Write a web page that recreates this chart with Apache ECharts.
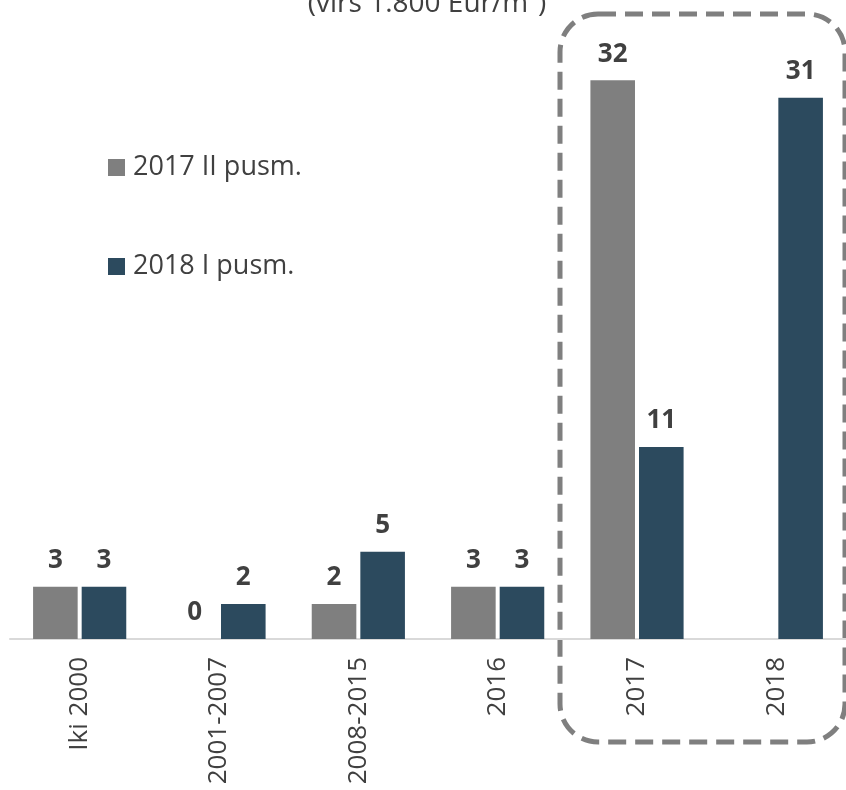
<!DOCTYPE html>
<html>
<head>
<meta charset="utf-8">
<script src="https://cdn.jsdelivr.net/npm/echarts@6/dist/echarts.min.js"></script>
<style>
html, body { margin: 0; padding: 0; background: #fff; }
#main { width: 846px; height: 790px; }
</style>
</head>
<body>
<div id="main"></div>
<script>
var categories = ['Iki 2000', '2001-2007', '2008-2015', '2016', '2017', '2018'];
var seriesNames = ['2017 II pusm.', '2018 I pusm.'];
var values2017h2 = [3, 0, 2, 3, 32, null];
var values2018h1 = [3, 2, 5, 3, 11, 31];
var titleText = '(virš 1.800 Eur/m²)';

var font = '"Open Sans", "Noto Sans", sans-serif';
var textColor = '#404040';

var myChart = echarts.init(document.getElementById('main'));

function barLabel() {
	return {
		show : true,
		position : 'top',
		distance : 13,
		fontFamily : font,
		fontWeight : 'bold',
		fontSize : 26,
		color : textColor
	};
}

var option = {
	animation : false,
	backgroundColor : '#fff',
	color : [ '#7f7f7f', '#2c4a5e' ],
	legend : {
		orient : 'vertical',
		left : 103,
		top : 149,
		itemGap : 72,
		itemWidth : 17,
		itemHeight : 17,
		icon : 'rect',
		textStyle : {
			fontFamily : font,
			fontSize : 27,
			color : textColor,
			padding : [ 0, 0, 0, 3 ]
		},
		data : seriesNames
	},
	grid : {
		left : 10,
		right : 0,
		top : 28,
		bottom : 151
	},
	xAxis : {
		type : 'category',
		data : categories,
		axisLine : { lineStyle : { color : '#d9d9d9', width : 2 } },
		axisTick : { show : false },
		axisLabel : {
			rotate : 90,
			margin : 18,
			fontFamily : font,
			fontSize : 26,
			color : textColor
		}
	},
	yAxis : {
		type : 'value',
		min : 0,
		max : 35,
		show : false
	},
	series : [ {
		name : seriesNames[0],
		type : 'bar',
		barWidth : '32%',
		barGap : '9%',
		data : values2017h2,
		label : barLabel()
	}, {
		name : seriesNames[1],
		type : 'bar',
		barWidth : '32%',
		data : values2018h1,
		label : barLabel()
	} ],
	graphic : [ {
		type : 'text',
		x : 427,
		y : 18,
		style : {
			text : titleText,
			fontFamily : font,
			fontSize : 28,
			fill : textColor,
			align : 'center',
			verticalAlign : 'bottom'
		}
	}, {
		// dashed frame round the last two years
		type : 'rect',
		shape : { x : 560, y : 14, width : 285, height : 728, r : 38 },
		style : {
			fill : null,
			stroke : '#7f7f7f',
			lineWidth : 5,
			lineDash : [ 18, 9 ]
		}
	} ]
};

myChart.setOption(option);
</script>
</body>
</html>
